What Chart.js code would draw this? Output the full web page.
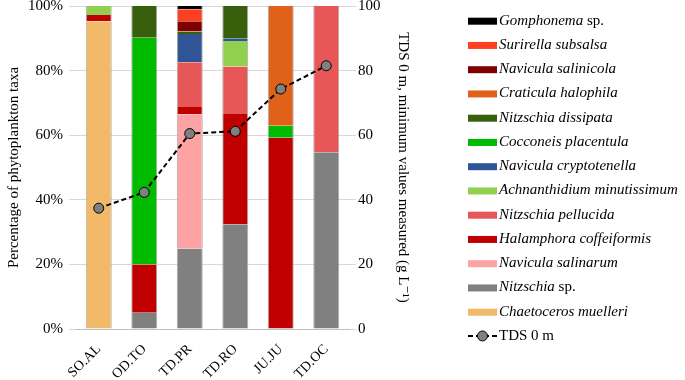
<!DOCTYPE html>
<html>
<head>
<meta charset="utf-8">
<script src="https://cdn.jsdelivr.net/npm/chart.js@4.4.1/dist/chart.umd.min.js"></script>
<style>
  html, body { margin: 0; padding: 0; background: #fff; }
  #wrap { width: 685px; height: 380px; position: relative; }
</style>
</head>
<body>
<div id="wrap"><canvas id="canvas1"></canvas></div>
<script>
// categories (sites)
const categories = ['SO.AL', 'OD.TO', 'TD.PR', 'TD.RO', 'JU.JU', 'TD.OC'];

// % of phytoplankton taxa, stacked bottom -> top
const chaetoceros        = [95.3, 0,    0,    0,    0,    0];
const nitzschiaSp        = [0,    5.0,  24.9, 32.4, 0,    54.7];
const naviculaSalinarum  = [0,    0,    41.6, 0,    0,    0];
const halamphora         = [1.9,  15.0, 2.2,  34.2, 59.2, 0];
const nitzschiaPellucida = [0,    0,    13.9, 14.7, 0,    45.3];
const achnanthidium      = [2.8,  0,    0,    7.9,  0,    0];
const naviculaCrypto     = [0,    0,    8.7,  0.8,  0,    0];
const cocconeis          = [0,    70.2, 0,    0,    3.7,  0];
const nitzschiaDiss      = [0,    9.8,  0.8,  10.0, 0,    0];
const craticula          = [0,    0,    0,    0,    37.1, 0];
const naviculaSalinicola = [0,    0,    3.2,  0,    0,    0];
const surirella          = [0,    0,    3.7,  0,    0,    0];
const gomphonema         = [0,    0,    1.0,  0,    0,    0];

// TDS 0 m, minimum values measured (g L-1)
const tds = [37.4, 42.3, 60.5, 61.2, 74.3, 81.5];

const pctTicks = [0, 20, 40, 60, 80, 100];

const serif = '"Liberation Serif", "DejaVu Serif", serif';

function bar(label, data, color) {
    return { type: 'bar', label: label, data: data, backgroundColor: color,
             borderColor: 'rgba(150,150,150,0.8)',
             borderWidth: { left: 1, right: 1, top: 0, bottom: 0 },
             yAxisID: 'y', order: 1,
             barPercentage: 0.57, categoryPercentage: 1 };
}

const barSets = [
    bar('Chaetoceros muelleri', chaetoceros, '#F2BA68'),
    bar('Nitzschia sp.', nitzschiaSp, '#808080'),
    bar('Navicula salinarum', naviculaSalinarum, '#FDA3A3'),
    bar('Halamphora coffeiformis', halamphora, '#C00000'),
    bar('Nitzschia pellucida', nitzschiaPellucida, '#E85757'),
    bar('Achnanthidium minutissimum', achnanthidium, '#92D050'),
    bar('Navicula cryptotenella', naviculaCrypto, '#2F5597'),
    bar('Cocconeis placentula', cocconeis, '#00BB00'),
    bar('Nitzschia dissipata', nitzschiaDiss, '#38600C'),
    bar('Craticula halophila', craticula, '#E0621A'),
    bar('Navicula salinicola', naviculaSalinicola, '#7F0000'),
    bar('Surirella subsalsa', surirella, '#FF4020'),
    bar('Gomphonema sp.', gomphonema, '#000000')
];

const lineSet = {
    type: 'line', label: 'TDS 0 m', data: tds, yAxisID: 'y1', order: 0,
    borderColor: '#000', borderWidth: 2, borderDash: [5, 3],
    pointRadius: 5, pointBackgroundColor: '#808080', pointBorderColor: '#000',
    pointBorderWidth: 1, fill: false, tension: 0
};

// legend drawn on the right, top item = top of stack
const sideLegend = {
    id: 'sideLegend',
    afterDraw(chart) {
        const ctx = chart.ctx;
        const items = barSets.slice().reverse();
        const x0 = 468, sw = 29, tx = 499;
        let y = 20.7;
        ctx.save();
        ctx.textBaseline = 'middle';
        items.forEach(ds => {
            ctx.fillStyle = ds.backgroundColor;
            ctx.fillRect(x0, y - 3, sw, 7);
            let name = ds.label, rest = '';
            if (name.endsWith(' sp.')) { rest = ' sp.'; name = name.slice(0, -4); }
            ctx.fillStyle = '#000';
            ctx.font = 'italic 15px ' + serif;
            ctx.fillText(name, tx, y);
            if (rest) {
                const w = ctx.measureText(name).width;
                ctx.font = '15px ' + serif;
                ctx.fillText(rest, tx + w, y);
            }
            y += 24.25;
        });
        // line item
        ctx.strokeStyle = '#000';
        ctx.lineWidth = 2;
        ctx.setLineDash([5, 3]);
        ctx.beginPath();
        ctx.moveTo(x0, y); ctx.lineTo(x0 + sw, y);
        ctx.stroke();
        ctx.setLineDash([]);
        ctx.lineWidth = 1;
        ctx.fillStyle = '#808080';
        ctx.beginPath();
        ctx.arc(x0 + sw / 2, y, 5, 0, Math.PI * 2);
        ctx.fill(); ctx.stroke();
        ctx.fillStyle = '#000';
        ctx.font = '15px ' + serif;
        ctx.fillText(lineSet.label, tx, y);
        ctx.restore();
    }
};

const config = {
    data: { labels: categories, datasets: [lineSet].concat(barSets) },
    options: {
        responsive: true,
        maintainAspectRatio: false,
        animation: false,
        layout: { padding: { top: 0, right: 273, left: 5, bottom: 0 } },
        plugins: { legend: { display: false }, tooltip: { enabled: false } },
        scales: {
            x: {
                stacked: true,
                grid: { display: false },
                border: { display: true, color: '#BFBFBF' },
                ticks: { color: '#000', font: { family: serif, size: 14 },
                         maxRotation: 45, minRotation: 45, padding: 4 },
                afterFit: s => { s.height = 51; }
            },
            y: {
                stacked: true, position: 'left', min: 0, max: 100,
                afterBuildTicks: s => { s.ticks = pctTicks.map(v => ({ value: v })); },
                grid: { color: '#D9D9D9', tickLength: 7 },
                border: { display: false },
                ticks: { color: '#000', font: { family: serif, size: 15 }, padding: 6,
                         callback: v => v + '%' },
                title: { display: true, text: 'Percentage of phytoplankton taxa',
                         color: '#000', font: { family: serif, size: 15 }, padding: 0 },
                afterFit: s => { s.width = 71; s.paddingTop = 6; s.paddingBottom = 0; }
            },
            y1: {
                position: 'right', min: 0, max: 100,
                afterBuildTicks: s => { s.ticks = pctTicks.map(v => ({ value: v })); },
                grid: { drawOnChartArea: false, color: '#D9D9D9', tickLength: 7 },
                border: { display: false },
                ticks: { color: '#000', font: { family: serif, size: 15 }, padding: 2 },
                title: { display: true, text: 'TDS 0 m, minimum values measured (g L\u207B\u00B9)',
                         color: '#000', font: { family: serif, size: 15 }, padding: 0 },
                afterFit: s => { s.width = 63; s.paddingTop = 6; s.paddingBottom = 0; }
            }
        }
    },
    plugins: [sideLegend]
};

const chart = new Chart(document.getElementById('canvas1'), config);
</script>
</body>
</html>
